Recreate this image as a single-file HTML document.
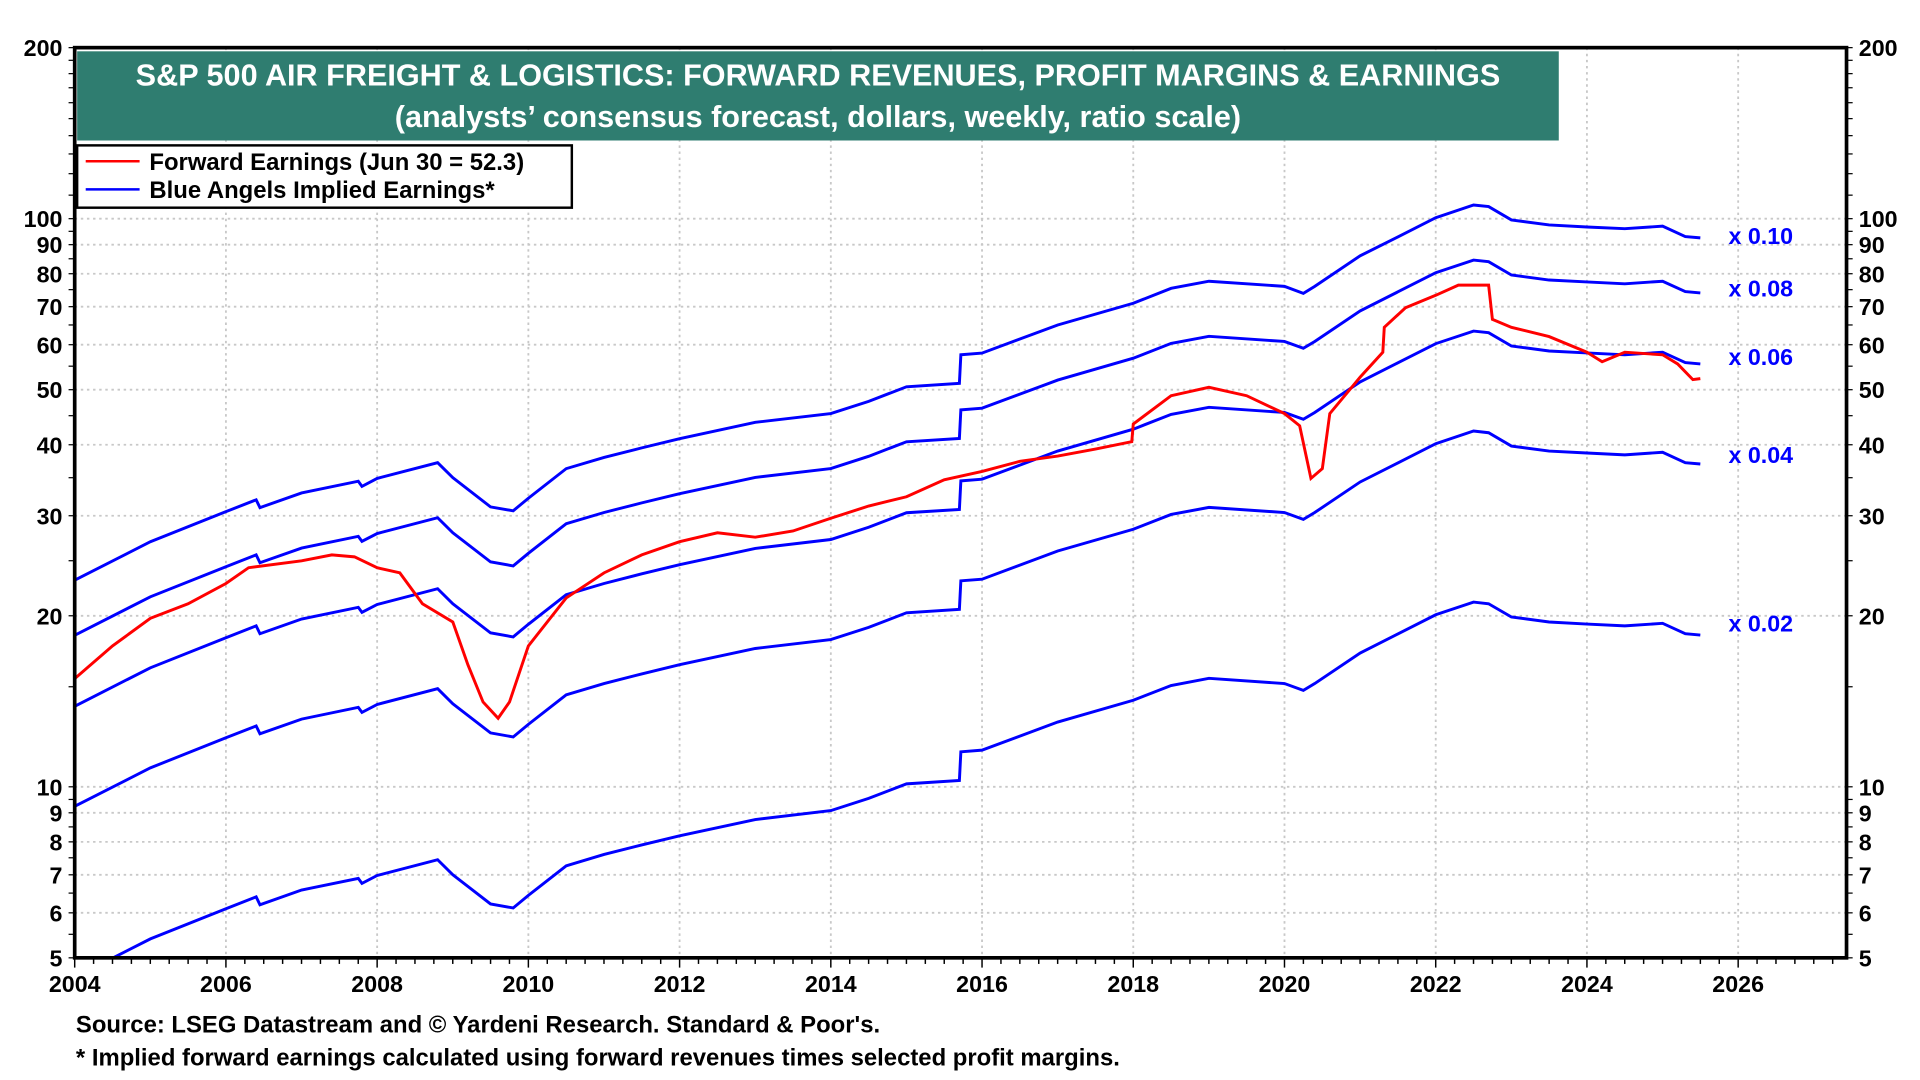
<!DOCTYPE html>
<html><head><meta charset="utf-8"><style>
html,body{margin:0;padding:0;background:#fff;}
svg{display:block;font-family:"Liberation Sans",Arial,sans-serif;}
</style></head><body>
<svg id="chart" width="1920" height="1080" viewBox="0 0 1568 884" preserveAspectRatio="none" xmlns="http://www.w3.org/2000/svg">
<defs><clipPath id="plotclip"><rect x="61" y="39" width="1447" height="745"/></clipPath></defs>
<g id="grid"></g>
<g id="series" clip-path="url(#plotclip)"></g>
<rect x="61" y="39" width="1447" height="745" fill="none" stroke="#000" stroke-width="3"/>
<g id="axes"></g>
<rect x="63" y="42" width="1210" height="73" fill="#2f7d70"/>
<text x="668" y="70" text-anchor="middle" fill="#fff" font-size="25" font-weight="bold">S&amp;P 500 AIR  FREIGHT &amp; LOGISTICS: FORWARD REVENUES, PROFIT MARGINS &amp; EARNINGS</text>
<text x="668" y="104" text-anchor="middle" fill="#fff" font-size="25" font-weight="bold">(analysts’ consensus forecast, dollars, weekly, ratio scale)</text>
<g>
<rect x="63" y="119" width="404" height="51" fill="#fff" stroke="#000" stroke-width="2"/>
<line x1="70" y1="132" x2="114" y2="132" stroke="#f00" stroke-width="2"/>
<text x="122" y="139" font-size="19.5" font-weight="bold">Forward Earnings (Jun 30 = 52.3)</text>
<line x1="70" y1="155" x2="114" y2="155" stroke="#00f" stroke-width="2"/>
<text x="122" y="162" font-size="19.5" font-weight="bold">Blue Angels Implied Earnings*</text>
</g>
<g id="mlabels"></g>
<text x="62" y="845" font-size="19.5" font-weight="bold">Source: LSEG Datastream and © Yardeni Research. Standard &amp; Poor's.</text>
<text x="62" y="872" font-size="19.5" font-weight="bold">* Implied forward earnings calculated using forward revenues times selected profit margins.</text>
</svg>
<script>
const revYears=[2004.0,2005.0,2006.0,2006.4,2006.45,2007.0,2007.75,2007.8,2008.0,2008.8,2009.0,2009.5,2009.8,2010.0,2010.5,2011.0,2011.5,2012.0,2013.0,2014.0,2014.5,2015.0,2015.7,2015.72,2016.0,2017.0,2018.0,2018.5,2019.0,2020.0,2020.25,2020.4,2021.0,2021.5,2022.0,2022.5,2022.7,2023.0,2023.5,2024.0,2024.5,2025.0,2025.3,2025.5];
const revenues=[231,270,305,320,310,329,345,338,349,372,350,311,306,322,363,380,395,410,438,454,477,506,513,576,580,650,710,754,776,760,739,760,860,929,1004,1057,1050,995,975,967,960,970,930,925];
const margins=[0.10,0.08,0.06,0.04,0.02];
const marginLabels=["x 0.10","x 0.08","x 0.06","x 0.04","x 0.02"];
const feYears=[2004.0,2004.5,2005.0,2005.5,2006.0,2006.3,2007.0,2007.4,2007.7,2008.0,2008.3,2008.6,2009.0,2009.2,2009.4,2009.6,2009.75,2010.0,2010.5,2011.0,2011.5,2012.0,2012.5,2013.0,2013.5,2014.0,2014.5,2015.0,2015.5,2016.0,2016.5,2017.0,2017.5,2017.98,2018.0,2018.5,2019.0,2019.5,2020.0,2020.2,2020.35,2020.5,2020.6,2021.0,2021.3,2021.32,2021.6,2022.0,2022.3,2022.7,2022.75,2023.0,2023.5,2024.0,2024.2,2024.5,2025.0,2025.2,2025.4,2025.5];
const feValues=[15.5,17.7,19.8,21,22.8,24.3,25,25.6,25.4,24.3,23.8,21,19.5,16.4,14.1,13.2,14.1,17.7,21.5,23.8,25.6,27,28,27.5,28.2,29.7,31.2,32.4,34.7,35.9,37.4,38.2,39.3,40.5,43.5,48.8,50.5,48.8,45.4,43.2,34.9,36.3,45.4,52.6,58.2,64.4,69.7,73.3,76.4,76.4,66.5,64.4,62,58.2,56,58.2,57.6,55.5,52.1,52.3];
const yLabels=[200,100,90,80,70,60,50,40,30,20,10,9,8,7,6,5];
const gridVals=[6,7,8,9,10,20,30,40,50,60,70,80,90,100];
const xLabels=[2004,2006,2008,2010,2012,2014,2016,2018,2020,2022,2024,2026];
const NS="http://www.w3.org/2000/svg";
const L=61,R=1508,T=39,B=784;
function xs(y){return L+(y-2004)*61.75;}
function ys(v){return B-Math.log2(v/5)*(B-T)/Math.log2(40);}
function mk(tag,at,parent){const e=document.createElementNS(NS,tag);for(const k in at)e.setAttribute(k,at[k]);parent.appendChild(e);return e;}
const grid=document.getElementById('grid'),axes=document.getElementById('axes'),ser=document.getElementById('series'),ml=document.getElementById('mlabels');
gridVals.forEach(v=>{const l=mk('line',{x1:L,x2:R,y1:ys(v),y2:ys(v),stroke:'#c8c8c8','stroke-width':1.5,'stroke-dasharray':'2,3'},grid);

});
xLabels.forEach(y=>{if(y>2004){const l=mk('line',{x1:xs(y),x2:xs(y),y1:T,y2:B,stroke:'#c8c8c8','stroke-width':1.5,'stroke-dasharray':'2,3'},grid);

}
const t=mk('text',{x:xs(y),y:B+28,'text-anchor':'middle','font-size':19,'font-weight':'bold'},axes);t.textContent=y;

});
for(let q=2004;q<=2027.4;q+=0.25){mk('line',{x1:xs(q),x2:xs(q),y1:B,y2:B+(Math.abs(q%2)<0.01?8:5),stroke:'#000','stroke-width':1.2},axes);}
yLabels.forEach(v=>{[[L-10,'end'],[R+10,'start']].forEach(([x,a])=>{const t=mk('text',{x:x,y:ys(v)+7,'text-anchor':a,'font-size':19,'font-weight':'bold'},axes);t.textContent=v;

});});
const minor=[];for(let v=5;v<10;v+=0.5)minor.push(v);for(let v=10;v<100;v+=5)minor.push(v);for(let v=100;v<=200;v+=10)minor.push(v);
minor.forEach(v=>{mk('line',{x1:L-5,x2:L,y1:ys(v),y2:ys(v),stroke:'#000','stroke-width':1},axes);mk('line',{x1:R,x2:R+5,y1:ys(v),y2:ys(v),stroke:'#000','stroke-width':1},axes);});
margins.forEach((m,i)=>{const pts=revYears.map((y,j)=>xs(y).toFixed(1)+','+ys(revenues[j]*m).toFixed(1)).join(' ');
const p=mk('polyline',{points:pts,fill:'none',stroke:'#0000ff','stroke-width':2.4},ser);


const lastV=revenues[revenues.length-1]*m;
const t=mk('text',{x:1438,y:ys(lastV)+5-i*2,'text-anchor':'middle','font-size':19,'font-weight':'bold',fill:'#0000ff'},ml);t.textContent=marginLabels[i];

});
const fpts=feYears.map((y,j)=>xs(y).toFixed(1)+','+ys(feValues[j]).toFixed(1)).join(' ');
const fp=mk('polyline',{points:fpts,fill:'none',stroke:'#ff0000','stroke-width':2.4},ser);


</script>
</body></html>
